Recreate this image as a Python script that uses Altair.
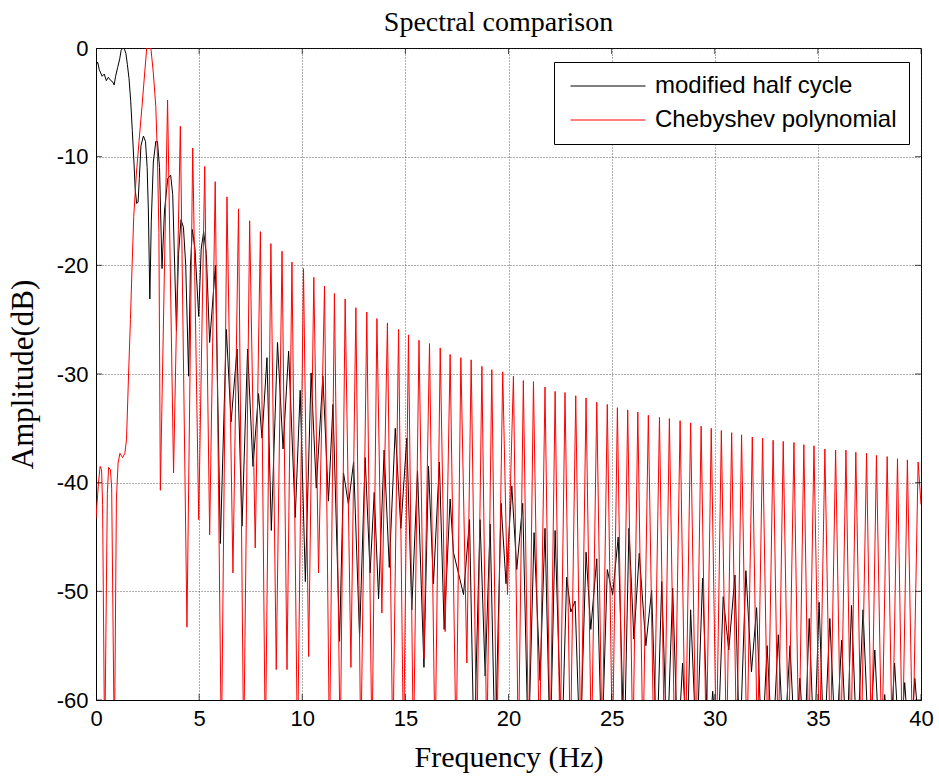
import altair as alt
import pandas as pd

SERIES = ["modified half cycle", "Chebyshev polynomial"]
X_TICKS = [0, 5, 10, 15, 20, 25, 30, 35, 40]
Y_TICKS = [-60, -50, -40, -30, -20, -10, 0]

# ---- Chebyshev polynomial (red) ----
RED_LOW = [(0.00, -43.3), (0.12, -40.0), (0.20, -38.5), (0.27, -38.8), (0.32, -42.0), (0.42, -65),
           (0.55, -41.0), (0.61, -38.6), (0.70, -38.8), (0.76, -40.5), (0.89, -65), (0.99, -41.5),
           (1.07, -38.2), (1.16, -37.3), (1.29, -37.7), (1.40, -37.3), (1.48, -36.0), (1.58, -30.0),
           (1.67, -25.0), (1.75, -20.0), (1.83, -15.5), (1.96, -11.5), (2.09, -8.5), (2.23, -5.4),
           (2.36, -2.3), (2.46, 0.0), (2.66, 0.0), (2.78, -2.3), (2.90, -5.4), (2.98, -10.0),
           (3.05, -17.0), (3.12, -40.7)]
RED_PEAK_F = [3.47, 4.09, 4.69, 5.27, 5.78, 6.35, 6.91, 7.45, 7.97, 8.48,
              9.02, 9.50, 10.06, 10.56, 11.08, 11.56, 12.08, 12.60, 13.13, 13.62,
              14.13, 14.67, 15.15, 15.66, 16.17, 16.69, 17.17, 17.69, 18.19, 18.71,
              19.19, 19.72, 20.24, 20.72, 21.21, 21.77, 22.26, 22.74, 23.26, 23.76,
              24.28, 24.79, 25.28, 25.78, 26.27, 26.78, 27.32, 27.80, 28.32, 28.83,
              29.34, 29.83, 30.32, 30.82, 31.30, 31.82, 32.32, 32.83, 33.32, 33.84,
              34.32, 34.81, 35.34, 35.86, 36.36, 36.84, 37.36, 37.84, 38.36, 38.86, 39.34, 39.86]
RED_PEAK_DB = [-4.8, -7.2, -9.2, -10.9, -12.3, -13.7, -14.8, -15.9, -16.9, -18.0,
               -18.7, -19.7, -20.3, -21.1, -21.9, -22.6, -23.1, -23.9, -24.3, -24.9,
               -25.3, -25.9, -26.4, -26.9, -27.2, -27.6, -28.2, -28.5, -28.7, -29.3,
               -29.6, -29.8, -30.2, -30.6, -30.7, -31.2, -31.6, -31.7, -32.0, -32.2,
               -32.6, -32.8, -33.1, -33.3, -33.5, -33.8, -34.0, -34.1, -34.3, -34.5,
               -34.8, -35.0, -35.2, -35.4, -35.6, -35.8, -35.9, -36.1, -36.2, -36.3,
               -36.5, -36.6, -36.9, -37.0, -37.0, -37.2, -37.3, -37.5, -37.6, -37.8, -37.9, -38.1]
RED_NULL_F = [3.76, 4.41, 4.98, 5.51, 6.08, 6.64, 7.16, 7.72, 8.21, 8.74,
              9.26, 9.77, 10.31, 10.79, 11.32, 11.84, 12.36, 12.84, 13.38, 13.86,
              14.39, 14.91, 15.39, 15.90, 16.44, 16.93, 17.46, 17.98, 18.46, 18.95,
              19.43, 19.95, 20.48, 20.98, 21.50, 22.02, 22.50, 23.00, 23.51, 24.02,
              24.54, 25.04, 25.53, 26.03, 26.52, 27.05, 27.56, 28.06, 28.58, 29.09,
              29.59, 30.08, 30.57, 31.06, 31.56, 32.07, 32.58, 33.08, 33.58, 34.08,
              34.56, 35.08, 35.60, 36.11, 36.60, 37.10, 37.60, 38.10, 38.61, 39.10, 39.60, 40.00]
RED_NULL_DB = [-39.1, -53.3, -43.4, -44.8, -65, -48.3, -65, -46.0, -65, -57.2,
               -57.2, -65, -56.0, -48.3, -65, -65, -57.0, -65, -65, -52.0,
               -65, -65, -65, -56.2, -65, -53.7, -65, -56.6, -65, -65,
               -65, -50.3, -65, -65, -65, -65, -65, -65, -65, -65,
               -65, -65, -65, -65, -65, -65, -65, -65, -65, -65,
               -65, -65, -65, -65, -65, -65, -65, -65, -65, -65,
               -65, -65, -65, -65, -65, -65, -65, -65, -65, -65, -65, -42.0]

# ---- modified half cycle (black) ----
BLACK_LOW = [(0.00, -1.6), (0.08, -1.3), (0.16, -2.0), (0.30, -2.6), (0.40, -2.4), (0.50, -3.0),
             (0.60, -2.7), (0.72, -3.0), (0.80, -3.1), (0.88, -3.4), (0.95, -2.6), (1.05, -1.8),
             (1.15, -1.0), (1.22, -0.2), (1.30, 0.0), (1.38, -0.1), (1.45, -0.5), (1.52, -1.5),
             (1.60, -2.8), (1.68, -4.8), (1.76, -7.6), (1.84, -10.5), (1.90, -13.0), (1.97, -14.3),
             (2.04, -14.2), (2.10, -12.0), (2.18, -9.0), (2.30, -8.1), (2.40, -8.6), (2.48, -11.0),
             (2.54, -15.0), (2.61, -23.1), (2.68, -16.0), (2.78, -10.5), (2.90, -8.6), (2.98, -8.6),
             (3.08, -11.0), (3.20, -20.3), (3.32, -15.0), (3.48, -12.0), (3.62, -11.7), (3.72, -13.5),
             (3.90, -26.0), (4.00, -19.0), (4.12, -15.8), (4.24, -16.5), (4.35, -20.0), (4.49, -30.2),
             (4.58, -20.0), (4.67, -16.7), (4.80, -18.5), (4.98, -24.7), (5.10, -18.5), (5.22, -16.9),
             (5.35, -19.0), (5.51, -27.1)]
BLACK_PEAK_F = [5.79, 6.32, 6.84, 7.35, 7.88, 8.29, 8.80, 9.34, 9.90, 10.43,
                11.00, 11.49, 12.00, 12.49, 13.05, 13.49, 13.97, 14.51, 15.07, 15.59,
                16.12, 16.65, 17.17, 17.62, 18.11, 18.62, 19.11, 19.64, 20.16, 20.69,
                21.24, 21.77, 22.26, 22.82, 23.23, 23.76, 24.28, 24.79, 25.32, 25.84,
                26.34, 26.94, 27.43, 27.96, 28.44, 28.83, 29.41, 29.90, 30.41, 30.98,
                31.51, 32.03, 32.54, 33.08, 33.65, 34.13, 34.58, 35.06, 35.58, 36.15,
                36.63, 37.19, 37.76, 38.24, 38.72, 39.21, 39.70]
BLACK_PEAK_DB = [-20.0, -25.9, -27.7, -27.7, -31.8, -28.5, -27.1, -27.9, -31.5, -29.9,
                 -30.2, -32.8, -39.1, -38.1, -37.7, -40.9, -37.0, -35.0, -35.9, -38.9,
                 -38.5, -38.1, -41.5, -48.7, -43.4, -43.4, -43.8, -41.9, -40.3, -41.9,
                 -44.6, -44.2, -44.4, -48.7, -50.9, -46.4, -47.0, -48.0, -45.0, -44.2,
                 -46.5, -49.9, -49.1, -49.7, -56.6, -51.7, -48.8, -59.2, -50.5, -48.5,
                 -48.1, -51.5, -55.0, -54.0, -55.0, -58.0, -52.5, -51.0, -52.5, -54.5,
                 -51.3, -51.7, -55.4, -59.5, -56.6, -58.4, -58.0]
BLACK_NULL_F = [6.03, 6.55, 7.08, 7.61, 8.05, 8.50, 9.07, 9.66, 10.15, 10.68,
                11.27, 11.81, 12.24, 12.78, 13.29, 13.70, 14.22, 14.78, 15.31, 15.90,
                16.36, 16.88, 17.33, 17.82, 18.33, 18.87, 19.35, 19.88, 20.40, 20.96,
                21.53, 22.02, 22.58, 23.02, 23.47, 23.99, 24.52, 25.05, 25.61, 26.08,
                26.66, 27.19, 27.69, 28.21, 28.66, 29.12, 29.69, 30.14, 30.68, 31.21,
                31.78, 32.29, 32.80, 33.35, 33.90, 34.35, 34.82, 35.30, 35.87, 36.40,
                36.90, 37.48, 38.00, 38.48, 38.97, 39.45, 40.00]
BLACK_NULL_DB = [-45.6, -34.4, -44.0, -38.5, -35.9, -44.4, -36.9, -43.2, -49.1, -40.5,
                 -41.7, -54.6, -42.0, -54.2, -48.3, -50.7, -47.8, -44.2, -51.7, -57.0,
                 -49.3, -53.5, -46.4, -50.3, -65, -57.8, -65, -49.3, -48.0, -65,
                 -58.2, -65, -65, -51.9, -65, -53.5, -65, -50.3, -65, -54.4,
                 -55.0, -65, -65, -65, -65, -65, -65, -65, -55.4, -65,
                 -57.4, -65, -65, -65, -65, -65, -65, -65, -65, -65,
                 -65, -65, -65, -65, -65, -65, -65]


def build(low, pf, pdb, nf, ndb, name):
    pts = list(low)
    for a, b, c, d in zip(pf, pdb, nf, ndb):
        pts.append((a, b))
        pts.append((c, d))
    return pd.DataFrame({
        "Frequency": [p[0] for p in pts],
        "Amplitude": [p[1] for p in pts],
        "Series": name,
        "idx": list(range(len(pts))),
    })


black_df = build(BLACK_LOW, BLACK_PEAK_F, BLACK_PEAK_DB, BLACK_NULL_F, BLACK_NULL_DB, SERIES[0])
red_df = build(RED_LOW, RED_PEAK_F, RED_PEAK_DB, RED_NULL_F, RED_NULL_DB, SERIES[1])

x_scale = alt.Scale(domain=[0, 40], nice=False, zero=False)
y_scale = alt.Scale(domain=[-60, 0], nice=False, zero=False)
color_scale = alt.Scale(domain=SERIES, range=["#000000", "#ff0000"])

x_axis = alt.Axis(title="Frequency (Hz)", values=X_TICKS, labelExpr="'' + datum.value",
                  labelFlush=False, labelOverlap=False,
                  grid=True, gridColor="#333333", gridDash=[1, 2], gridWidth=1, gridOpacity=0.8,
                  ticks=False, domainColor="black", domainWidth=1,
                  labelFont="Liberation Sans", labelFontSize=22, labelColor="black", labelPadding=8,
                  titleFont="Liberation Serif", titleFontSize=30, titleFontWeight="normal",
                  titleColor="black", titlePadding=13)
y_axis = alt.Axis(title="Amplitude(dB)", values=Y_TICKS, labelExpr="'' + datum.value",
                  labelFlush=False, labelOverlap=False,
                  grid=True, gridColor="#333333", gridDash=[1, 2], gridWidth=1, gridOpacity=0.8,
                  ticks=False, domainColor="black", domainWidth=1,
                  labelFont="Liberation Sans", labelFontSize=22, labelColor="black", labelPadding=8,
                  titleFont="Liberation Serif", titleFontSize=31, titleFontWeight="normal",
                  titleColor="black", titlePadding=17)

legend = alt.Legend(title=None, orient="none", legendX=458, legendY=14, direction="vertical",
                    fillColor="white", strokeColor="black", padding=12,
                    symbolType="M-1,0H9", symbolSize=225, symbolStrokeWidth=1,
                    symbolFillColor="transparent",
                    labelFont="Liberation Sans", labelFontSize=24, labelColor="black",
                    labelOffset=65, rowPadding=10, labelLimit=400)

black_line = alt.Chart(black_df).mark_line(clip=True, strokeWidth=1).encode(
    x=alt.X("Frequency:Q", scale=x_scale, axis=x_axis),
    y=alt.Y("Amplitude:Q", scale=y_scale, axis=y_axis),
    color=alt.Color("Series:N", scale=color_scale, legend=legend),
    order="idx:Q",
)
red_line = alt.Chart(red_df).mark_line(clip=True, strokeWidth=1).encode(
    x=alt.X("Frequency:Q", scale=x_scale, axis=x_axis),
    y=alt.Y("Amplitude:Q", scale=y_scale, axis=y_axis),
    color=alt.Color("Series:N", scale=color_scale, legend=legend),
    order="idx:Q",
)

# inward tick marks on all four sides
xt = pd.DataFrame({"t": X_TICKS, "lo": -60, "hi": 0})
yt = pd.DataFrame({"t": Y_TICKS, "lo": 0, "hi": 40})
tick_mark = dict(thickness=1, size=12, color="black", clip=True)
ticks_bottom = alt.Chart(xt).mark_tick(orient="vertical", **tick_mark).encode(
    x=alt.X("t:Q", scale=x_scale, axis=x_axis), y=alt.Y("lo:Q", scale=y_scale, axis=y_axis))
ticks_top = alt.Chart(xt).mark_tick(orient="vertical", **tick_mark).encode(
    x=alt.X("t:Q", scale=x_scale, axis=x_axis), y=alt.Y("hi:Q", scale=y_scale, axis=y_axis))
ticks_left = alt.Chart(yt).mark_tick(orient="horizontal", **tick_mark).encode(
    y=alt.Y("t:Q", scale=y_scale, axis=y_axis), x=alt.X("lo:Q", scale=x_scale, axis=x_axis))
ticks_right = alt.Chart(yt).mark_tick(orient="horizontal", **tick_mark).encode(
    y=alt.Y("t:Q", scale=y_scale, axis=y_axis), x=alt.X("hi:Q", scale=x_scale, axis=x_axis))

chart = alt.layer(black_line, red_line, ticks_bottom, ticks_top, ticks_left, ticks_right).properties(
    width=825, height=652,
    title=alt.TitleParams(text="Spectral comparison", font="Liberation Serif", fontSize=28,
                          fontWeight="normal", color="black", anchor="middle", offset=0, dx=-10),
    autosize=alt.AutoSizeParams(type="none"),
    padding={"left": 96, "top": 48, "right": 18, "bottom": 80},
    background="white",
).configure_view(stroke="black", strokeWidth=1)

chart.save("out.html", embed_options={"renderer": "svg", "actions": False})
